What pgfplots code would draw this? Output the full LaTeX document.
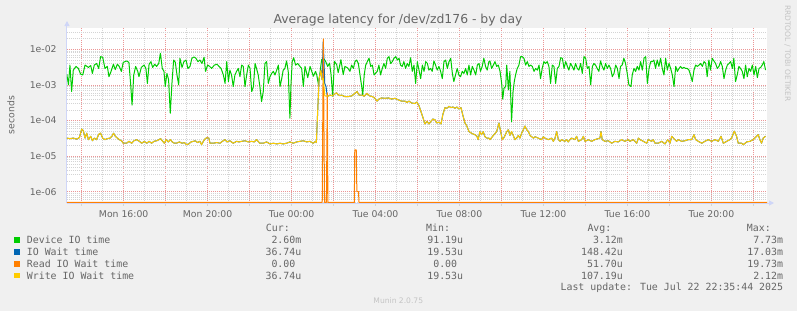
\documentclass[border=0pt]{standalone}
\usepackage{pgfplots}
\pgfplotsset{compat=1.18}
\usepackage{pgfplotstable}
\usepackage{fontspec}
\setmainfont{DejaVu Sans}
\newfontfamily\monof{DejaVu Sans Mono}
\usetikzlibrary{arrows.meta}
\definecolor{bgc}{HTML}{F0F0F0}
\definecolor{fontc}{HTML}{666666}
\definecolor{axisc}{HTML}{CFD6F8}
\definecolor{mgridc}{RGB}{236,150,150}
\definecolor{gridc}{RGB}{212,212,212}
\definecolor{lightc}{HTML}{C4C4C4}
\definecolor{cgreen}{HTML}{00CC00}
\definecolor{cblue}{HTML}{0066B3}
\definecolor{corange}{HTML}{FF8000}
\definecolor{cyellow}{HTML}{FFCC00}

% Device IO time (hours since Mon 00:00, seconds)
\pgfplotstableread{
h v
13.29 2.0e-3
13.37 1.0e-3
13.44 3.6e-3
13.52 6.5e-4
13.60 2.6e-3
13.73 3.3e-3
13.84 2.9e-3
13.95 2.0e-3
14.05 1.9e-3
14.16 3.6e-3
14.32 3.1e-3
14.43 3.5e-3
14.51 2.1e-3
14.60 3.6e-3
14.71 4.0e-3
14.81 2.9e-3
14.90 6.2e-3
15.00 6.0e-3
15.11 2.9e-3
15.22 3.3e-3
15.30 1.7e-3
15.40 2.4e-3
15.51 3.8e-3
15.60 2.7e-3
15.70 3.8e-3
15.79 3.3e-3
15.89 2.4e-3
15.98 4.3e-3
16.14 4.7e-3
16.25 4.3e-3
16.33 1.1e-3
16.40 2.7e-4
16.48 1.9e-3
16.57 3.3e-3
16.67 2.4e-3
16.73 1.7e-3
16.84 3.1e-3
16.97 3.6e-3
17.06 2.9e-3
17.13 1.1e-3
17.21 3.8e-3
17.30 4.5e-3
17.38 3.1e-3
17.48 3.8e-3
17.57 3.3e-3
17.67 4.0e-3
17.75 7.7e-3
17.84 2.9e-3
17.92 2.4e-3
17.98 9.0e-4
18.06 2.1e-3
18.14 1.4e-3
18.22 1.6e-4
18.30 1.1e-3
18.38 5.0e-3
18.46 4.3e-3
18.54 1.9e-3
18.62 1.0e-3
18.68 5.6e-3
18.78 3.1e-3
18.87 4.5e-3
18.97 5.0e-3
19.06 2.9e-3
19.16 3.3e-3
19.25 5.6e-3
19.35 6.1e-3
19.44 5.6e-3
19.54 4.5e-3
19.63 5.0e-3
19.73 4.0e-3
19.83 6.0e-3
19.90 2.4e-3
20.00 3.6e-3
20.10 3.3e-3
20.19 2.9e-3
20.32 3.6e-3
20.45 3.8e-3
20.54 3.3e-3
20.64 2.9e-3
20.75 1.9e-3
20.83 1.1e-3
20.91 4.5e-3
20.99 1.24e-3
21.06 2.6e-3
21.14 1.9e-3
21.22 9.0e-4
21.30 1.9e-3
21.38 2.4e-3
21.46 2.9e-3
21.54 1.7e-3
21.62 3.6e-3
21.70 3.3e-3
21.78 9.0e-4
21.86 1.9e-3
21.94 3.6e-3
22.02 2.9e-3
22.10 6.5e-4
22.18 9.0e-4
22.26 4.0e-3
22.33 2.9e-3
22.41 1.9e-3
22.49 9.0e-4
22.57 3.4e-4
22.65 6.5e-4
22.73 4.0e-3
22.81 4.5e-3
22.89 1.1e-3
22.97 1.7e-3
23.05 2.1e-3
23.13 2.4e-3
23.21 1.9e-3
23.29 2.6e-3
23.37 3.6e-3
23.45 9.0e-4
23.53 1.5e-3
23.60 2.6e-3
23.68 2.9e-3
23.76 4.7e-3
23.84 2.4e-3
23.92 1.16e-4
23.97 1.0e-3
24.03 4.5e-3
24.10 5.8e-3
24.19 3.6e-3
24.29 4.0e-3
24.40 3.3e-3
24.48 2.9e-3
24.56 9.0e-4
24.64 3.3e-3
24.77 1.6e-3
24.88 3.3e-3
25.04 1.75e-3
25.14 2.4e-3
25.20 1.9e-3
25.28 1.0e-3
25.43 5.1e-3
25.51 5.7e-3
25.62 4.6e-3
25.72 3.3e-3
25.81 4.1e-3
25.88 1.95e-3
25.96 4.8e-4
26.04 4.6e-3
26.15 3.7e-3
26.22 2.2e-3
26.35 5.1e-3
26.46 1.95e-3
26.54 3.3e-3
26.67 3.0e-3
26.78 2.4e-3
26.86 3.6e-3
26.94 2.9e-3
27.02 4.5e-3
27.10 5.0e-3
27.18 4.0e-3
27.26 1.9e-3
27.34 9.0e-4
27.39 5.2e-4
27.46 1.9e-3
27.53 3.6e-3
27.61 4.5e-3
27.69 5.6e-3
27.77 3.3e-3
27.85 3.6e-3
27.93 1.9e-3
28.00 2.1e-3
28.08 2.4e-3
28.16 3.6e-3
28.24 1.9e-3
28.32 2.9e-3
28.40 4.0e-3
28.48 2.9e-3
28.56 5.6e-3
28.64 6.2e-3
28.72 4.0e-3
28.80 4.5e-3
28.88 5.6e-3
28.96 6.2e-3
29.04 5.0e-3
29.12 5.6e-3
29.19 3.6e-3
29.27 3.3e-3
29.35 4.5e-3
29.43 2.9e-3
29.51 4.0e-3
29.59 3.3e-3
29.67 5.8e-3
29.75 2.4e-3
29.83 3.6e-3
29.91 1.1e-3
29.99 4.5e-3
30.07 2.6e-3
30.15 1.5e-3
30.23 3.6e-3
30.31 2.4e-3
30.39 4.5e-3
30.47 4.0e-3
30.54 2.6e-3
30.62 2.9e-3
30.70 2.4e-3
30.78 4.7e-3
30.86 3.6e-3
30.94 2.6e-3
31.02 3.3e-3
31.10 2.4e-3
31.18 1.5e-3
31.26 4.5e-3
31.34 5.0e-3
31.42 2.9e-3
31.50 4.5e-3
31.58 5.6e-3
31.66 2.1e-3
31.73 1.24e-3
31.81 1.9e-3
31.89 2.9e-3
31.97 1.9e-3
32.05 1.7e-3
32.13 2.4e-3
32.21 2.1e-3
32.29 2.9e-3
32.37 1.9e-3
32.45 3.6e-3
32.53 1.9e-3
32.61 3.3e-3
32.69 2.6e-3
32.77 1.9e-3
32.85 3.6e-3
32.93 4.0e-3
33.00 2.4e-3
33.08 3.3e-3
33.16 5.6e-3
33.24 3.3e-3
33.32 2.6e-3
33.40 4.5e-3
33.45 4.7e-3
33.53 2.9e-3
33.61 3.6e-3
33.69 4.5e-3
33.77 3.3e-3
33.85 3.6e-3
33.93 2.4e-3
34.01 1.1e-3
34.06 4.0e-4
34.12 8.1e-4
34.20 9.0e-4
34.25 3.6e-3
34.33 7.2e-4
34.40 2.4e-3
34.48 9.2e-5
34.55 6.5e-4
34.61 1.24e-3
34.67 1.9e-3
34.75 2.9e-3
34.83 3.6e-3
34.91 6.2e-3
34.99 6.2e-3
35.07 5.6e-3
35.15 3.6e-3
35.23 4.5e-3
35.31 3.3e-3
35.39 3.6e-3
35.47 3.3e-3
35.55 2.4e-3
35.63 2.9e-3
35.71 2.6e-3
35.79 3.6e-3
35.86 1.5e-3
35.94 2.9e-3
36.02 4.5e-3
36.10 4.0e-3
36.18 4.5e-3
36.26 3.3e-3
36.34 1.1e-3
36.42 3.6e-3
36.50 3.3e-3
36.58 1.1e-3
36.66 2.9e-3
36.74 3.3e-3
36.82 5.8e-3
36.90 5.6e-3
36.98 2.9e-3
37.06 4.5e-3
37.14 3.3e-3
37.21 2.6e-3
37.29 4.0e-3
37.37 3.3e-3
37.45 2.6e-3
37.53 4.0e-3
37.61 2.9e-3
37.69 2.6e-3
37.77 4.0e-3
37.85 2.1e-3
37.93 6.2e-3
38.01 5.6e-3
38.09 2.9e-3
38.17 3.3e-3
38.25 1.0e-3
38.33 3.3e-3
38.40 4.0e-3
38.48 3.6e-3
38.56 2.9e-3
38.64 2.4e-3
38.72 4.7e-3
38.80 3.3e-3
38.88 2.6e-3
38.96 4.0e-3
39.04 2.9e-3
39.12 3.6e-3
39.20 2.9e-3
39.28 1.7e-3
39.36 2.1e-3
39.44 3.6e-3
39.52 2.9e-3
39.60 1.5e-3
39.67 3.3e-3
39.75 3.6e-3
39.83 5.6e-3
39.91 4.0e-3
39.99 2.1e-3
40.07 1.0e-3
40.17 9.0e-4
40.23 1.9e-3
40.31 2.9e-3
40.39 2.4e-3
40.47 3.3e-3
40.55 2.6e-3
40.63 4.5e-3
40.71 2.6e-3
40.79 5.6e-3
40.87 6.2e-3
40.95 1.1e-3
41.03 2.9e-3
41.11 4.5e-3
41.19 4.5e-3
41.26 5.0e-3
41.34 2.9e-3
41.42 5.0e-3
41.50 3.3e-3
41.58 5.6e-3
41.66 2.9e-3
41.74 1.9e-3
41.82 5.6e-3
41.90 2.6e-3
41.98 4.0e-3
42.06 2.9e-3
42.14 1.9e-3
42.22 9.0e-4
42.30 3.3e-3
42.38 2.4e-3
42.46 2.9e-3
42.53 3.3e-3
42.61 2.9e-3
42.69 3.1e-3
42.77 2.9e-3
42.85 2.9e-3
42.93 2.6e-3
43.01 1.9e-3
43.09 1.24e-3
43.17 2.6e-3
43.25 3.6e-3
43.33 3.3e-3
43.41 3.6e-3
43.49 4.0e-3
43.57 3.3e-3
43.65 4.5e-3
43.73 4.0e-3
43.80 1.7e-3
43.88 5.0e-3
43.96 2.6e-3
44.04 5.6e-3
44.12 4.7e-3
44.20 4.0e-3
44.28 2.9e-3
44.36 3.3e-3
44.44 4.5e-3
44.52 3.3e-3
44.60 1.5e-3
44.68 2.6e-3
44.76 3.6e-3
44.84 4.0e-3
44.92 4.5e-3
45.00 2.9e-3
45.07 5.6e-3
45.15 1.24e-3
45.23 1.9e-3
45.31 3.3e-3
45.39 2.9e-3
45.47 2.4e-3
45.55 1.5e-3
45.63 3.6e-3
45.71 1.7e-3
45.79 2.9e-3
45.87 2.4e-3
45.95 3.6e-3
46.03 1.9e-3
46.11 3.3e-3
46.19 1.6e-3
46.27 2.9e-3
46.35 3.1e-3
46.42 3.6e-3
46.50 4.5e-3
46.58 2.6e-3
}\greendata

% IO Wait time (io) and Write IO Wait time (wr)
\pgfplotstableread{
h io wr
13.29 3.2e-5 3.2e-5
13.44 3.1e-5 3.1e-5
13.60 3.2e-5 3.2e-5
13.76 3.0e-5 3.0e-5
13.89 3.3e-5 3.3e-5
14.00 5.8e-5 5.8e-5
14.08 5.1e-5 5.1e-5
14.16 3.2e-5 3.2e-5
14.24 4.4e-5 4.4e-5
14.32 2.9e-5 2.9e-5
14.43 3.6e-5 3.6e-5
14.51 2.7e-5 2.7e-5
14.60 3.2e-5 3.2e-5
14.71 2.9e-5 2.9e-5
14.81 4.1e-5 4.1e-5
14.90 4.4e-5 4.4e-5
15.00 3.2e-5 3.2e-5
15.11 2.9e-5 2.9e-5
15.22 3.1e-5 3.1e-5
15.35 3.2e-5 3.2e-5
15.44 3.6e-5 3.6e-5
15.52 4.4e-5 4.4e-5
15.60 3.6e-5 3.6e-5
15.70 3.2e-5 3.2e-5
15.79 2.9e-5 2.9e-5
15.90 2.7e-5 2.7e-5
15.98 2.3e-5 2.3e-5
16.14 2.3e-5 2.3e-5
16.25 2.6e-5 2.6e-5
16.38 2.3e-5 2.3e-5
16.49 2.7e-5 2.7e-5
16.62 2.9e-5 2.9e-5
16.75 2.6e-5 2.6e-5
16.86 2.3e-5 2.3e-5
16.98 2.6e-5 2.6e-5
17.10 2.3e-5 2.3e-5
17.21 2.6e-5 2.6e-5
17.33 2.3e-5 2.3e-5
17.44 2.6e-5 2.6e-5
17.57 2.7e-5 2.7e-5
17.68 2.9e-5 2.9e-5
17.76 3.1e-5 3.1e-5
17.86 2.6e-5 2.6e-5
17.94 2.3e-5 2.3e-5
18.02 2.9e-5 2.9e-5
18.13 2.5e-5 2.5e-5
18.22 2.9e-5 2.9e-5
18.32 2.5e-5 2.5e-5
18.41 2.3e-5 2.3e-5
18.52 2.3e-5 2.3e-5
18.65 2.5e-5 2.5e-5
18.78 2.3e-5 2.3e-5
18.89 2.4e-5 2.4e-5
19.00 2.1e-5 2.1e-5
19.10 2.2e-5 2.2e-5
19.21 2.5e-5 2.5e-5
19.32 2.6e-5 2.6e-5
19.41 2.7e-5 2.7e-5
19.52 2.4e-5 2.4e-5
19.63 2.6e-5 2.6e-5
19.71 2.1e-5 2.1e-5
19.81 2.7e-5 2.7e-5
19.89 3.1e-5 3.1e-5
19.97 3.3e-5 3.3e-5
20.06 3.2e-5 3.2e-5
20.11 2.3e-5 2.3e-5
20.27 2.3e-5 2.3e-5
20.43 2.4e-5 2.4e-5
20.59 2.3e-5 2.3e-5
20.70 2.6e-5 2.6e-5
20.83 2.9e-5 2.9e-5
20.92 2.5e-5 2.5e-5
21.06 2.7e-5 2.7e-5
21.22 2.3e-5 2.3e-5
21.38 2.6e-5 2.6e-5
21.49 2.5e-5 2.5e-5
21.62 2.6e-5 2.6e-5
21.78 2.7e-5 2.7e-5
21.94 2.5e-5 2.5e-5
22.10 2.6e-5 2.6e-5
22.22 2.5e-5 2.5e-5
22.33 2.9e-5 2.9e-5
22.49 2.3e-5 2.3e-5
22.65 2.3e-5 2.3e-5
22.81 2.5e-5 2.5e-5
22.97 2.2e-5 2.2e-5
23.13 2.3e-5 2.3e-5
23.29 2.2e-5 2.2e-5
23.45 2.3e-5 2.3e-5
23.60 2.2e-5 2.2e-5
23.76 2.3e-5 2.3e-5
23.92 2.5e-5 2.5e-5
24.08 2.3e-5 2.3e-5
24.24 2.5e-5 2.5e-5
24.40 2.6e-5 2.6e-5
24.56 2.7e-5 2.7e-5
24.72 2.5e-5 2.5e-5
24.87 2.6e-5 2.6e-5
25.03 2.3e-5 2.3e-5
25.14 2.6e-5 2.6e-5
25.18 2.4e-5 2.4e-5
25.31 1.5e-3 1.5e-3
25.36 2.0e-3 2.0e-3
25.40 2.6e-3 2.6e-3
25.45 1.4e-3 1.4e-3
25.51 1.7e-2 1.5e-3
25.58 1.1e-3 5.0e-4
25.64 9.0e-4 4.8e-4
25.70 4.8e-4 4.8e-4
25.77 4.9e-4 4.9e-4
25.83 5.2e-4 5.2e-4
25.91 5.0e-4 5.0e-4
25.99 5.2e-4 5.2e-4
26.07 5.6e-4 5.6e-4
26.14 6.0e-4 6.0e-4
26.22 5.3e-4 5.3e-4
26.30 5.0e-4 5.0e-4
26.38 5.2e-4 5.2e-4
26.46 4.9e-4 4.9e-4
26.54 4.7e-4 4.7e-4
26.70 4.7e-4 4.7e-4
26.86 4.9e-4 4.9e-4
27.02 5.8e-4 5.8e-4
27.12 6.5e-4 6.5e-4
27.21 5.2e-4 5.2e-4
27.34 5.2e-4 5.2e-4
27.46 4.8e-4 4.8e-4
27.59 5.8e-4 5.8e-4
27.72 4.9e-4 4.9e-4
27.85 4.7e-4 4.7e-4
27.97 4.2e-4 4.2e-4
28.07 3.5e-4 3.5e-4
28.16 4.0e-4 4.0e-4
28.29 4.3e-4 4.3e-4
28.45 4.2e-4 4.2e-4
28.61 4.3e-4 4.3e-4
28.77 4.0e-4 4.0e-4
28.93 4.2e-4 4.2e-4
29.08 3.8e-4 3.8e-4
29.24 3.5e-4 3.5e-4
29.40 3.5e-4 3.5e-4
29.50 3.2e-4 3.2e-4
29.59 3.5e-4 3.5e-4
29.72 3.1e-4 3.1e-4
29.88 3.0e-4 3.0e-4
29.97 3.3e-4 3.3e-4
30.07 2.6e-4 2.6e-4
30.16 1.8e-4 1.8e-4
30.26 1.2e-4 1.2e-4
30.35 8.0e-5 8.0e-5
30.45 9.5e-5 9.5e-5
30.54 8.0e-5 8.0e-5
30.64 9.5e-5 9.5e-5
30.73 1.1e-4 1.1e-4
30.83 1.05e-4 1.05e-4
30.92 8.5e-5 8.5e-5
31.02 9.0e-5 9.0e-5
31.12 8.0e-5 8.0e-5
31.21 1.5e-4 1.5e-4
31.31 2.3e-4 2.3e-4
31.40 2.2e-4 2.2e-4
31.50 2.5e-4 2.5e-4
31.59 2.3e-4 2.3e-4
31.69 2.4e-4 2.4e-4
31.78 2.2e-4 2.2e-4
31.88 2.4e-4 2.4e-4
31.97 2.1e-4 2.1e-4
32.07 2.3e-4 2.3e-4
32.16 1.4e-4 1.4e-4
32.26 8.5e-5 8.5e-5
32.35 7.0e-5 7.0e-5
32.45 4.9e-5 4.9e-5
32.54 4.5e-5 4.5e-5
32.64 4.2e-5 4.2e-5
32.73 4.0e-5 4.0e-5
32.83 3.6e-5 3.6e-5
32.89 2.9e-5 2.9e-5
32.97 4.9e-5 4.9e-5
33.05 4.0e-5 4.0e-5
33.13 4.9e-5 4.9e-5
33.21 3.5e-5 3.5e-5
33.31 3.2e-5 3.2e-5
33.40 3.2e-5 3.2e-5
33.45 2.9e-5 2.9e-5
33.61 3.8e-5 3.8e-5
33.77 4.9e-5 4.9e-5
33.88 8.5e-5 8.5e-5
33.96 4.9e-5 4.9e-5
34.04 2.9e-5 2.9e-5
34.13 3.4e-5 3.4e-5
34.25 4.9e-5 4.9e-5
34.33 5.5e-5 5.5e-5
34.40 3.8e-5 3.8e-5
34.48 4.9e-5 4.9e-5
34.56 3.8e-5 3.8e-5
34.64 2.9e-5 2.9e-5
34.72 3.2e-5 3.2e-5
34.80 3.8e-5 3.8e-5
34.88 3.2e-5 3.2e-5
34.96 4.4e-5 4.4e-5
35.04 5.5e-5 5.5e-5
35.12 7.0e-5 7.0e-5
35.20 5.5e-5 5.5e-5
35.28 4.9e-5 4.9e-5
35.36 3.8e-5 3.8e-5
35.44 3.5e-5 3.5e-5
35.52 3.2e-5 3.2e-5
35.60 3.5e-5 3.5e-5
35.75 3.2e-5 3.2e-5
35.91 2.9e-5 2.9e-5
35.99 3.5e-5 3.5e-5
36.07 3.2e-5 3.2e-5
36.23 2.9e-5 2.9e-5
36.39 3.2e-5 3.2e-5
36.47 2.6e-5 2.6e-5
36.55 3.2e-5 3.2e-5
36.63 4.9e-5 4.9e-5
36.71 2.9e-5 2.9e-5
36.79 2.6e-5 2.6e-5
36.86 2.9e-5 2.9e-5
37.02 2.6e-5 2.6e-5
37.10 2.9e-5 2.9e-5
37.18 2.5e-5 2.5e-5
37.26 2.9e-5 2.9e-5
37.34 3.2e-5 3.2e-5
37.50 2.9e-5 2.9e-5
37.58 3.6e-5 3.6e-5
37.66 2.6e-5 2.6e-5
37.82 2.9e-5 2.9e-5
37.90 3.6e-5 3.6e-5
37.98 2.6e-5 2.6e-5
38.14 2.9e-5 2.9e-5
38.29 2.6e-5 2.6e-5
38.45 2.9e-5 2.9e-5
38.69 3.2e-5 3.2e-5
38.74 4.9e-5 4.9e-5
38.80 2.9e-5 2.9e-5
38.93 2.6e-5 2.6e-5
39.09 2.7e-5 2.7e-5
39.25 2.3e-5 2.3e-5
39.40 2.6e-5 2.6e-5
39.56 2.5e-5 2.5e-5
39.72 2.9e-5 2.9e-5
39.88 2.6e-5 2.6e-5
40.04 2.9e-5 2.9e-5
40.12 2.6e-5 2.6e-5
40.28 2.9e-5 2.9e-5
40.44 2.3e-5 2.3e-5
40.52 3.2e-5 3.2e-5
40.60 2.9e-5 2.9e-5
40.76 2.6e-5 2.6e-5
40.92 2.3e-5 2.3e-5
40.99 2.9e-5 2.9e-5
41.15 2.6e-5 2.6e-5
41.23 2.9e-5 2.9e-5
41.31 2.3e-5 2.3e-5
41.47 2.3e-5 2.3e-5
41.63 2.6e-5 2.6e-5
41.79 2.2e-5 2.2e-5
41.92 2.9e-5 2.9e-5
42.03 2.3e-5 2.3e-5
42.11 3.6e-5 3.6e-5
42.19 3.2e-5 3.2e-5
42.34 2.6e-5 2.6e-5
42.42 2.9e-5 2.9e-5
42.58 2.6e-5 2.6e-5
42.74 2.7e-5 2.7e-5
42.90 2.9e-5 2.9e-5
43.06 2.9e-5 2.9e-5
43.17 4.0e-5 4.0e-5
43.25 2.9e-5 2.9e-5
43.38 2.6e-5 2.6e-5
43.54 2.3e-5 2.3e-5
43.69 2.6e-5 2.6e-5
43.85 2.9e-5 2.9e-5
44.01 2.6e-5 2.6e-5
44.17 2.9e-5 2.9e-5
44.33 2.6e-5 2.6e-5
44.46 3.6e-5 3.6e-5
44.57 2.3e-5 2.3e-5
44.73 2.6e-5 2.6e-5
44.88 2.9e-5 2.9e-5
44.96 3.2e-5 3.2e-5
45.09 5.0e-5 5.0e-5
45.20 3.6e-5 3.6e-5
45.28 2.3e-5 2.3e-5
45.44 2.3e-5 2.3e-5
45.52 2.1e-5 2.1e-5
45.68 2.5e-5 2.5e-5
45.84 2.6e-5 2.6e-5
45.99 2.9e-5 2.9e-5
46.15 3.6e-5 3.6e-5
46.23 4.0e-5 4.0e-5
46.31 2.9e-5 2.9e-5
46.39 2.3e-5 2.3e-5
46.47 3.2e-5 3.2e-5
46.58 3.6e-5 3.6e-5
}\waitdata

\begin{document}
\begin{tikzpicture}[x=1pt,y=1pt]
\useasboundingbox (0,0) rectangle (797,311);
\fill[bgc] (0,0) rectangle (797,311);
\begin{axis}[
  at={(67pt,108pt)}, anchor=south west,
  scale only axis, width=700pt, height=175pt,
  xmin=13.30, xmax=46.65,
  ymode=log, ymin=4.82e-7, ymax=0.0396,
  axis background/.style={fill=white},
  axis lines=left,
  axis line style={draw=axisc, line width=1pt},
  x axis line style={-{Triangle[width=5pt,length=5pt]}, shorten >=-7pt},
  y axis line style={-{Triangle[width=5pt,length=5pt]}, shorten >=-7pt},
  xtick={14,16,...,46},
  xticklabels={,Mon 16:00,,Mon 20:00,,Tue 00:00,,Tue 04:00,,Tue 08:00,,Tue 12:00,,Tue 16:00,,Tue 20:00,},
  minor xtick={15,17,...,45},
  ytick={1e-6,1e-5,1e-4,1e-3,1e-2},
  yticklabels={1e-06,1e-05,1e-04,1e-03,1e-02},
  minor ytick={5e-7,6e-7,7e-7,8e-7,9e-7,2e-6,3e-6,4e-6,5e-6,6e-6,7e-6,8e-6,9e-6,2e-5,3e-5,4e-5,5e-5,6e-5,7e-5,8e-5,9e-5,2e-4,3e-4,4e-4,5e-4,6e-4,7e-4,8e-4,9e-4,2e-3,3e-3,4e-3,5e-3,6e-3,7e-3,8e-3,9e-3,2e-2,3e-2},
  xmajorgrids, xminorgrids, ymajorgrids, yminorgrids,
  major grid style={draw=mgridc, dash pattern=on 1pt off 1pt, line width=0.6pt},
  minor grid style={draw=gridc, dash pattern=on 1pt off 1pt, line width=0.5pt},
  tick align=outside,
  major tick length=2.5pt, minor tick length=0pt,
  xtick style={draw=gridc, line width=0.8pt},
  ytick style={draw=none},
  tick label style={font=\fontsize{9.3}{11}\selectfont, color=fontc},
  xticklabel style={anchor=base, inner sep=0pt, yshift=-12pt},
  yticklabel style={anchor=east, inner sep=0pt, xshift=-7.7pt},
  every axis plot/.append style={line width=1pt, line join=round},
]
\addplot[cgreen] table[x=h,y=v]{\greendata};
\addplot[cblue] table[x=h,y=io]{\waitdata};
\addplot[corange] coordinates {
(13.30,5e-7) (25.46,5e-7) (25.51,1.97e-2) (25.57,5e-7) (25.66,5e-7)
(25.70,6e-4) (25.73,5e-7) (26.99,5e-7) (27.01,1.5e-5) (27.08,1.5e-5)
(27.11,1e-6) (27.19,1e-6) (27.21,5e-7) (46.65,5e-7)};
\addplot[cyellow] table[x=h,y=wr]{\waitdata};
\end{axis}

% title and side texts
\node[anchor=base, inner sep=0pt, font=\fontsize{12.4}{14}\selectfont, text=fontc] at (398,287.5) {Average latency for /dev/zd176 - by day};
\node[rotate=90, inner sep=0pt, font=\fontsize{9.3}{11}\selectfont, text=fontc] at (11,196) {seconds};
\node[rotate=-90, inner sep=0pt, font=\fontsize{7.5}{9}\selectfont, text=lightc] at (787.5,257.5) {RRDTOOL / TOBI OETIKER};
\node[anchor=base, inner sep=0pt, font=\fontsize{7.6}{9}\selectfont, text=lightc] at (398.3,7.7) {Munin 2.0.75};

% legend
\begin{scope}[every node/.style={inner sep=0pt, text=fontc, font=\monof\fontsize{9.9}{11}\selectfont}]
\node[anchor=base west] at (265.7,79.5) {Cur:};
\node[anchor=base west] at (426,79.5) {Min:};
\node[anchor=base west] at (587.3,79.5) {Avg:};
\node[anchor=base west] at (746.7,79.5) {Max:};

\fill[cgreen] (14,68.3) rectangle (20,73.7);
\node[anchor=base west] at (26.7,67.7) {Device IO time};
\node[anchor=base east] at (301.5,67.7) {2.60m};
\node[anchor=base east] at (463.3,67.7) {91.19u};
\node[anchor=base east] at (623,67.7) {3.12m};
\node[anchor=base east] at (783.3,67.7) {7.73m};

\fill[cblue] (14,56.4) rectangle (20,61.8);
\node[anchor=base west] at (26.7,55.8) {IO Wait time};
\node[anchor=base east] at (301.5,55.8) {36.74u};
\node[anchor=base east] at (463.3,55.8) {19.53u};
\node[anchor=base east] at (623,55.8) {148.42u};
\node[anchor=base east] at (783.3,55.8) {17.03m};

\fill[corange] (14,44.5) rectangle (20,49.9);
\node[anchor=base west] at (26.7,43.9) {Read IO Wait time};
\node[anchor=base east] at (301.5,43.9) {0.00\hphantom{0}};
\node[anchor=base east] at (463.3,43.9) {0.00\hphantom{0}};
\node[anchor=base east] at (623,43.9) {51.70u};
\node[anchor=base east] at (783.3,43.9) {19.73m};

\fill[cyellow] (14,32.6) rectangle (20,38.0);
\node[anchor=base west] at (26.7,32.0) {Write IO Wait time};
\node[anchor=base east] at (301.5,32.0) {36.74u};
\node[anchor=base east] at (463.3,32.0) {19.53u};
\node[anchor=base east] at (623,32.0) {107.19u};
\node[anchor=base east] at (783.3,32.0) {2.12m};

\node[anchor=base east] at (783.3,21) {Last update: Tue Jul 22 22:35:44 2025};
\end{scope}
\end{tikzpicture}
\end{document}
